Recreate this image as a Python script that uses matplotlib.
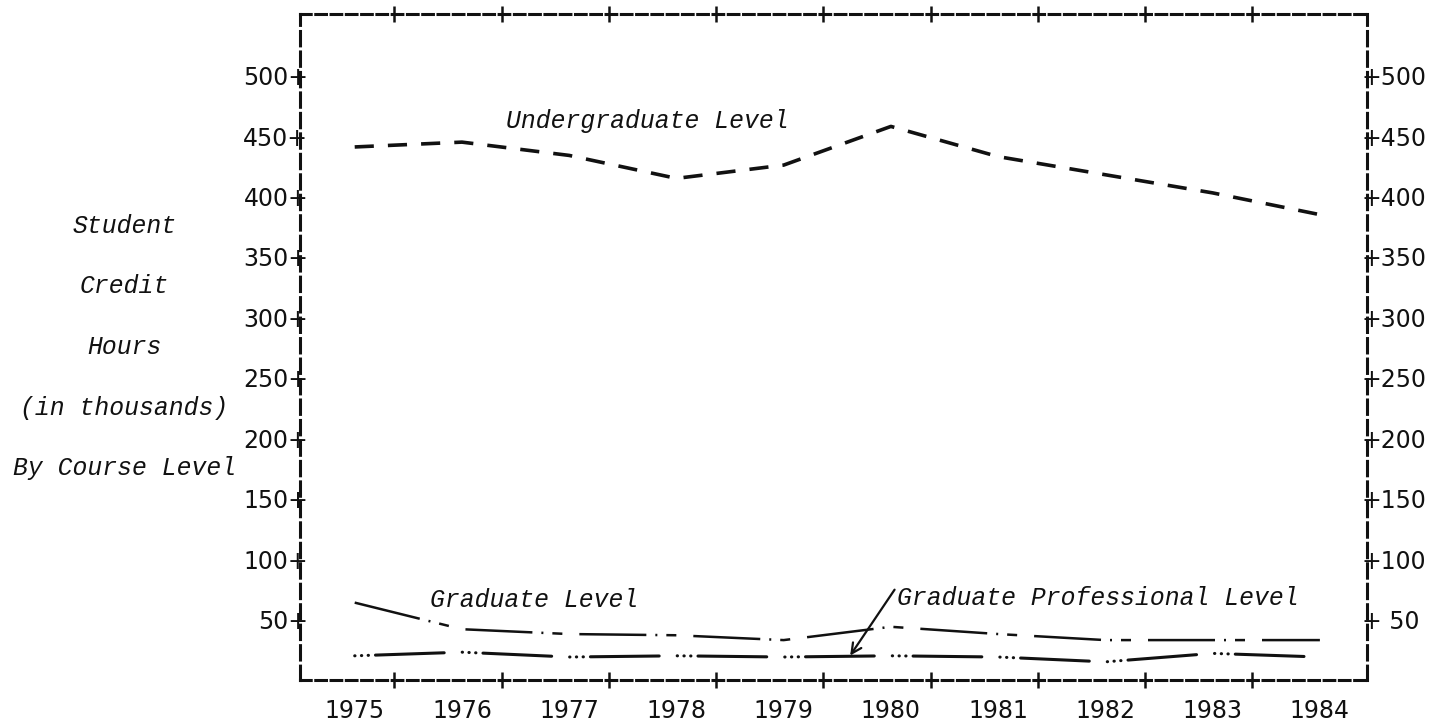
import matplotlib
matplotlib.use('Agg')
import matplotlib.pyplot as plt

# credit hours in thousands
years = [1975, 1976, 1977, 1978, 1979, 1980, 1981, 1982, 1983, 1984]
undergrad = [441, 445, 434, 415, 426, 458, 433, 418, 403, 385]
graduate = [64, 42, 38, 37, 33, 44, 38, 33, 33, 33]
grad_prof = [20, 23, 19, 20, 19, 20, 19, 15, 22, 19]

y_ticks = [50, 100, 150, 200, 250, 300, 350, 400, 450, 500]
left_labels = ['%d+' % v for v in y_ticks]
right_labels = ['+ 50'] + ['+%d' % v for v in y_ticks[1:]]
side_title = ['Student', 'Credit', 'Hours', '(in thousands)', 'By Course Level']

ink = '#111111'
mono = 'Liberation Mono'
num_size = 17
typed_size = 17.8

fig = plt.figure(figsize=(14.3, 7.22), dpi=100)
ax = fig.add_axes([0.2098, 0.0582, 0.7462, 0.9224])
ax.set_xlim(1974.49, 1984.44)
ax.set_ylim(0, 551)

ax.plot(years, undergrad, color=ink, lw=2.6, dashes=(5.3, 3.9))
ax.plot(years, graduate, color=ink, lw=1.8,
        dashes=(26.8, 3.6, 0.8, 3.6, 4, 6.8))
ax.plot(years, grad_prof, color=ink, lw=2.2, dash_capstyle='round',
        dashes=(0.1, 2.1, 0.1, 2.1, 0.1, 2.3, 22.5, 5.9))

# typed frame
for s in ['top', 'bottom']:
    ax.spines[s].set_linestyle((0, (3.5, 1.5)))
    ax.spines[s].set_linewidth(2.2)
    ax.spines[s].set_color(ink)
for s in ['left', 'right']:
    ax.spines[s].set_linestyle((0, (4.7, 2)))
    ax.spines[s].set_linewidth(2.2)
    ax.spines[s].set_color(ink)

ax.set_xticks(years)
ax.set_xticklabels([str(y) for y in years], fontsize=num_size, color=ink)
ax.tick_params(axis='x', which='major', length=0, pad=14)
ax.set_xticks([y + 0.37 for y in years[:-1]], minor=True)
ax.tick_params(axis='x', which='minor', direction='inout', length=11,
               width=1.8, color=ink, top=True, bottom=True)

ax.set_yticks(y_ticks)
ax.set_yticklabels(left_labels, fontsize=num_size, color=ink)
ax.tick_params(axis='y', length=0, pad=-6)

ax2 = ax.twinx()
ax2.set_ylim(ax.get_ylim())
ax2.set_yticks(y_ticks)
ax2.set_yticklabels(right_labels, fontsize=num_size, color=ink)
ax2.tick_params(axis='y', length=0, pad=-3.8)
for s in ax2.spines.values():
    s.set_visible(False)

ax.text(1976.41, 456.7, 'Undergraduate Level', fontsize=typed_size,
        family=mono, style='italic', color=ink, ha='left', va='baseline')
ax.text(1975.70, 60.5, 'Graduate Level', fontsize=typed_size,
        family=mono, style='italic', color=ink, ha='left', va='baseline')
ax.annotate('Graduate Professional Level', xy=(1979.62, 20.2),
            xytext=(1980.06, 62.4), fontsize=typed_size, family=mono,
            style='italic', color=ink, ha='left', va='baseline',
            arrowprops=dict(arrowstyle='->', lw=1.6, color=ink,
                            shrinkA=0, shrinkB=0, relpos=(0, 1),
                            mutation_scale=18))

for i, line in enumerate(side_title):
    fig.text(0.087, 1 - (226 + 60.5 * i) / 722, line, fontsize=typed_size,
             family=mono, style='italic', color=ink, ha='center', va='center')

fig.savefig('out.png', dpi=100)
